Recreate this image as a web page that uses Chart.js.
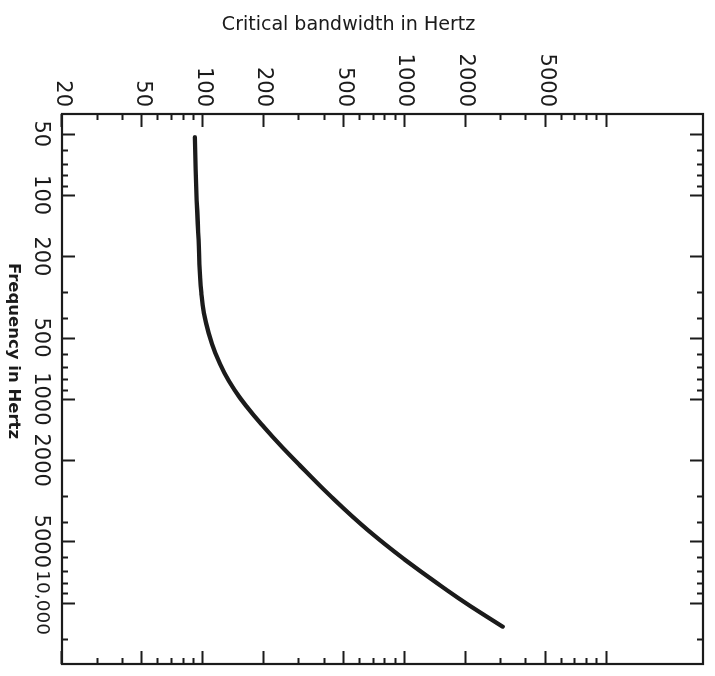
<!DOCTYPE html>
<html>
<head>
<meta charset="utf-8">
<title>Critical bandwidth</title>
<script src="https://cdn.jsdelivr.net/npm/chart.js@4/dist/chart.umd.min.js"></script>
<style>
  html, body { margin: 0; padding: 0; background: #ffffff; }
  body { width: 715px; height: 676px; overflow: hidden; position: relative; }
  /* The chart is laid out with frequency across and bandwidth up,
     then the whole figure is turned a quarter turn clockwise. */
  #turn {
    position: absolute; left: 0; top: 0;
    width: 676px; height: 715px;
    transform-origin: 0 0;
    transform: translateX(715px) rotate(90deg);
  }
  canvas { display: block; }
</style>
</head>
<body>
<div id="turn"><canvas id="cb" width="676" height="715"></canvas></div>
<script>
// Measured critical bandwidth as a function of centre frequency
const freqHz      = [52, 106, 166, 241, 302, 379, 475, 595, 746, 904, 1096, 1374, 1722, 2159, 3018, 4397, 6172, 8665, 10460, 13120];
const bandwidthHz = [91, 93, 95, 96.5, 98, 101, 106.5, 115, 127.5, 143, 165, 200, 246, 307, 431, 654, 1003, 1610, 2130, 3050];

// Axis ranges
const freqRange = [40, 20000];
const bandwidthRange = [20, 30000];

// Labelled ticks
const freqTickValues = [50, 100, 200, 500, 1000, 2000, 5000, 10000];
const freqTickLabels = ['50', '100', '200', '500', '1000', '2000', '5000', '10,000'];
const bandwidthTickValues = [20, 50, 100, 200, 500, 1000, 2000, 5000];
const bandwidthTickLabels = ['20', '50', '100', '200', '500', '1000', '2000', '5000'];

// Tick marks drawn on the frame (long and short)
const freqMajorMarks = [50, 100, 200, 500, 1000, 2000, 5000, 10000];
const freqMinorMarks = [60, 70, 80, 90, 300, 400, 600, 700, 800, 900, 3000, 4000, 6000, 7000, 8000, 9000, 15000];
const bandwidthMajorMarks = [20, 50, 100, 200, 500, 1000, 2000, 5000, 10000];
const bandwidthMinorMarks = [30, 40, 60, 70, 80, 90, 300, 400, 600, 700, 800, 900, 3000, 4000, 6000, 7000, 8000, 9000];

const freqTitle = 'Frequency in Hertz';
const bandwidthTitle = 'Critical bandwidth in Hertz';

const INK = '#1b1b1b';
const FONT = '"DejaVu Sans", "Liberation Sans", sans-serif';

// Frame with inward tick marks on all four sides
const frameTicks = {
  id: 'frameTicks',
  afterDatasetsDraw(chart) {
    const { ctx, chartArea: a, scales } = chart;
    const fx = scales.x, by = scales.y;
    const LONG = 13, SHORT = 6;
    ctx.save();
    ctx.strokeStyle = INK;
    ctx.lineCap = 'butt';
    ctx.lineWidth = 2;
    const markX = (list, len) => {
      list.forEach(v => {
        const px = Math.round(fx.getPixelForValue(v)) + 0.5;
        ctx.beginPath();
        ctx.moveTo(px, a.bottom); ctx.lineTo(px, a.bottom - len);
        ctx.moveTo(px, a.top); ctx.lineTo(px, a.top + len);
        ctx.stroke();
      });
    };
    const markY = (list, len) => {
      list.forEach(v => {
        const py = Math.round(by.getPixelForValue(v)) + 0.5;
        ctx.beginPath();
        ctx.moveTo(a.left, py); ctx.lineTo(a.left + len, py);
        ctx.moveTo(a.right, py); ctx.lineTo(a.right - len, py);
        ctx.stroke();
      });
    };
    markX(freqMajorMarks, LONG);
    markX(freqMinorMarks, SHORT);
    markY(bandwidthMajorMarks, LONG);
    markY(bandwidthMinorMarks, SHORT);
    ctx.lineWidth = 2.2;
    ctx.strokeRect(a.left, a.top, a.right - a.left, a.bottom - a.top);
    ctx.restore();
  }
};

// Axis captions
const captions = {
  id: 'captions',
  afterDraw(chart) {
    const { ctx, chartArea: a } = chart;
    ctx.save();
    ctx.fillStyle = INK;
    ctx.textAlign = 'center';
    ctx.textBaseline = 'alphabetic';
    ctx.font = 'bold 16.5px ' + FONT;
    ctx.fillText(freqTitle, (a.left + a.right) / 2 - 38, a.bottom + 53);
    ctx.translate(a.left - 84, (a.top + a.bottom) / 2 + 34);
    ctx.rotate(-Math.PI / 2);
    ctx.font = '19px ' + FONT;
    ctx.fillText(bandwidthTitle, 0, 0);
    ctx.restore();
  }
};

const points = freqHz.map((f, i) => ({ x: f, y: bandwidthHz[i] }));

new Chart(document.getElementById('cb'), {
  type: 'scatter',
  data: {
    datasets: [{
      data: points,
      showLine: true,
      fill: false,
      borderColor: INK,
      borderWidth: 4.3,
      pointRadius: 0,
      tension: 0.45,
      borderCapStyle: 'round',
      borderJoinStyle: 'round'
    }]
  },
  options: {
    responsive: false,
    animation: false,
    devicePixelRatio: 1,
    layout: { padding: { top: 12, right: 12, left: 0, bottom: 0 } },
    plugins: { legend: { display: false }, tooltip: { enabled: false } },
    scales: {
      x: {
        type: 'logarithmic',
        position: 'bottom',
        min: freqRange[0],
        max: freqRange[1],
        grid: { display: false, drawTicks: false },
        border: { display: false },
        ticks: {
          autoSkip: false, minRotation: 0, maxRotation: 0, padding: 9,
          color: INK,
          font: c => ({ family: FONT, size: (c.tick && c.tick.value === 10000) ? 18.5 : 21 }),
          callback: v => freqTickLabels[freqTickValues.indexOf(v)] ?? ''
        },
        afterBuildTicks: s => { s.ticks = freqTickValues.map(v => ({ value: v })); },
        afterFit: s => { s.height = 62; s.paddingLeft = 0; s.paddingRight = 0; }
      },
      y: {
        type: 'logarithmic',
        position: 'left',
        min: bandwidthRange[0],
        max: bandwidthRange[1],
        grid: { display: false, drawTicks: false },
        border: { display: false },
        ticks: {
          autoSkip: false, padding: 7,
          color: INK, font: { family: FONT, size: 21 },
          callback: v => bandwidthTickLabels[bandwidthTickValues.indexOf(v)] ?? ''
        },
        afterBuildTicks: s => { s.ticks = bandwidthTickValues.map(v => ({ value: v })); },
        afterFit: s => { s.width = 114; s.paddingTop = 0; s.paddingBottom = 0; }
      }
    }
  },
  plugins: [frameTicks, captions]
});
</script>
</body>
</html>
